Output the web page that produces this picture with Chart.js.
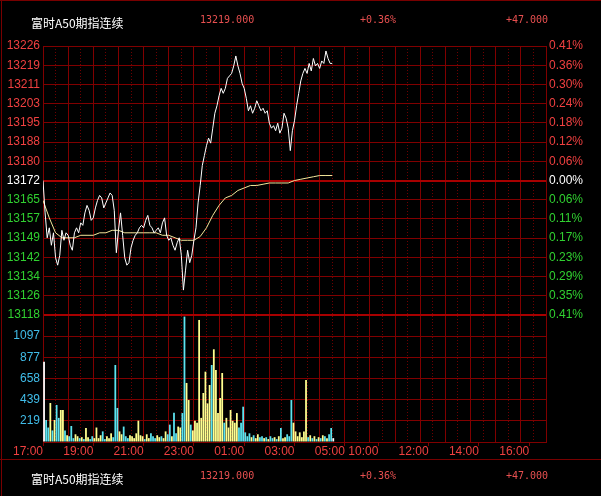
<!DOCTYPE html>
<html>
<head>
<meta charset="utf-8">
<script src="https://cdn.jsdelivr.net/npm/chart.js@4.4.1/dist/chart.umd.min.js"></script>
<style>
  html, body { margin: 0; padding: 0; background: #000; }
  #wrap { position: relative; width: 601px; height: 496px; overflow: hidden; background: #000; }
  #wrap canvas { position: absolute; left: 0; top: 0; }
  .row { position: absolute; left: 0; width: 601px; height: 16px; line-height: 16px; }
  .row span { position: absolute; top: 0; white-space: nowrap; }
  .name { color: #fff; font: 12px "Noto Sans CJK SC", sans-serif; }
  .num { color: #e85050; font: 10px "DejaVu Sans Mono", monospace; }
  .frame { position: absolute; background: #780000; }
</style>
</head>
<body>
<div id="wrap">
  <canvas id="c" width="601" height="496"></canvas>
  <div class="frame" style="left:0;top:0;width:601px;height:1px"></div>
  <div class="frame" style="left:1px;top:0;width:1px;height:496px"></div>
  <div class="frame" style="left:0;top:459px;width:601px;height:1px"></div>
  <div class="row" style="top:14px">
    <span class="name" style="left:31px">富时A50期指连续</span>
    <span class="num" style="left:200px">13219.000</span>
    <span class="num" style="left:360px">+0.36%</span>
    <span class="num" style="left:506px">+47.000</span>
  </div>
  <div class="row" style="top:470px">
    <span class="name" style="left:31px">富时A50期指连续</span>
    <span class="num" style="left:200px">13219.000</span>
    <span class="num" style="left:360px">+0.36%</span>
    <span class="num" style="left:506px">+47.000</span>
  </div>
</div>
<script>
// ------------------------------------------------------------
// data (night session from 17:00, one sample every 5 minutes)
// ------------------------------------------------------------
const PREV_CLOSE = 13172;
const STEP_MIN = 5;
const AVG_STEP_MIN = 15;
const VOL_STEP = 219.4;

const price = [
  13172, 13159, 13149, 13153, 13146, 13151, 13141, 13138, 13142, 13152,
  13148, 13151, 13150, 13146, 13144, 13151, 13153, 13151, 13155, 13154,
  13159, 13162, 13160, 13156, 13157, 13161, 13164, 13166, 13165, 13161,
  13163, 13165, 13167, 13166, 13160, 13143, 13152, 13159, 13150, 13141,
  13138, 13139, 13145, 13148, 13150, 13151, 13153, 13154, 13153, 13156,
  13158, 13154, 13153, 13151, 13152, 13153, 13151, 13155, 13157, 13150,
  13148, 13149, 13146, 13144, 13147, 13149, 13142, 13128, 13136, 13144,
  13139, 13142, 13148, 13153, 13163, 13170, 13178, 13182, 13186, 13189,
  13187, 13193, 13199, 13202, 13206, 13209, 13207, 13209, 13213, 13214,
  13215, 13218, 13222, 13218, 13215, 13211, 13209, 13205, 13200, 13202,
  13199, 13201, 13204, 13202, 13200, 13201, 13199, 13200, 13195, 13193,
  13194, 13192, 13195, 13191, 13193, 13199, 13197, 13193, 13184, 13192,
  13196, 13202, 13207, 13212, 13215, 13217, 13215, 13219, 13216, 13221,
  13218, 13219, 13217, 13220, 13219, 13224, 13221, 13219, 13219
];

const avgPrice = [
  13164, 13157, 13151, 13149, 13149, 13149, 13150, 13150, 13150, 13151,
  13151, 13152, 13152, 13151, 13151, 13151, 13151, 13151, 13151, 13150,
  13150, 13149, 13148, 13148, 13148, 13149.5, 13153, 13158, 13162, 13165,
  13166, 13168, 13169, 13170, 13170, 13170.5, 13171, 13171, 13171, 13171,
  13172, 13172.5, 13173, 13173.5, 13174, 13174, 13174
];

const volume = [
  833, 228, 150, 404, 120, 228, 384, 250, 332, 332,
  120, 70, 60, 166, 40, 80, 60, 40, 50, 30,
  145, 50, 30, 60, 40, 150, 40, 70, 110, 30,
  60, 40, 90, 50, 798, 353, 110, 80, 160, 60,
  40, 70, 60, 40, 90, 221, 70, 60, 30, 80,
  40, 90, 60, 40, 70, 50, 60, 40, 110, 80,
  180, 60, 304, 90, 160, 150, 300, 1300, 612, 435,
  180, 120, 220, 200, 1265, 250, 508, 729, 400, 591,
  798, 961, 747, 300, 456, 715, 200, 250, 150, 332,
  220, 200, 300, 150, 200, 366, 100, 60, 90, 50,
  70, 40, 80, 50, 60, 40, 50, 30, 60, 40,
  50, 30, 60, 145, 40, 50, 80, 60, 435, 200,
  110, 60, 100, 50, 110, 643, 50, 70, 40, 60,
  30, 50, 40, 70, 60, 40, 80, 145, 40
];

// time axis: minutes from 17:00 (day session drawn after the night one)
const timeLabels = ['17:00', '19:00', '21:00', '23:00', '01:00', '03:00', '05:00', '10:00', '12:00', '14:00', '16:00'];
const timeTickMin = [0, 120, 240, 360, 480, 600, 720, 800, 920, 1040, 1160];
const X_MAX = 1200;

const priceLabels = ['13118', '13126', '13134', '13142', '13149', '13157', '13165', '13172',
                     '13180', '13188', '13195', '13203', '13211', '13219', '13226'];
const pctLabels = ['0.41%', '0.35%', '0.29%', '0.23%', '0.17%', '0.11%', '0.06%', '0.00%',
                   '0.06%', '0.12%', '0.18%', '0.24%', '0.30%', '0.36%', '0.41%'];
const volLabels = ['', '219', '439', '658', '877', '1097', ''];

// ------------------------------------------------------------
// styles
// ------------------------------------------------------------
const GRID = '#800000';
const GRID_DOT = '#6e0000';
const GRID_MAIN = '#a80000';
const RED = '#f04040';
const GREEN = '#30d030';
const CYAN = '#40bce8';
const FONT = { family: '"Liberation Sans", Arial, sans-serif', size: 12 };
const HALF = 54;

const priceTicks = () => priceLabels.map((_, i) => ({ value: PREV_CLOSE + (i - 7) * HALF / 7 }));
const sideColor = c => c.index < 7 ? GREEN : (c.index === 7 ? '#ffffff' : RED);

const pricePts = price.map((v, i) => ({ x: i * STEP_MIN, y: v }));
const avgPts = avgPrice.map((v, i) => ({ x: i * AVG_STEP_MIN, y: v }));
// each volume bar sits in the middle of its 5-minute slot
const volPts = volume.map((v, i) => ({ x: i * STEP_MIN + STEP_MIN / 2, y: v }));
const volColors = price.map((p, i) => {
  if (i === 0 || p === price[i - 1]) return '#ffffff';
  return p > price[i - 1] ? '#ffff90' : '#5ce4f0';
});

new Chart(document.getElementById('c').getContext('2d'), {
  data: {
    datasets: [
      { type: 'line', data: pricePts, xAxisID: 'x', yAxisID: 'yP',
        borderColor: '#ffffff', borderWidth: 1, pointRadius: 0, tension: 0 },
      { type: 'line', data: avgPts, xAxisID: 'x', yAxisID: 'yP',
        borderColor: '#f2e69a', borderWidth: 1, pointRadius: 0, tension: 0 },
      { type: 'bar', data: volPts, xAxisID: 'x', yAxisID: 'yV',
        backgroundColor: volColors, borderWidth: 0,
        barPercentage: 1, categoryPercentage: 0.85 }
    ]
  },
  options: {
    responsive: false,
    animation: false,
    layout: { padding: { top: 46, bottom: 34, left: 0, right: 0 } },
    plugins: { legend: { display: false }, tooltip: { enabled: false } },
    scales: {
      x: {
        type: 'linear', position: 'bottom', min: 0, max: X_MAX, offset: false,
        afterBuildTicks: s => { s.ticks = timeTickMin.map(v => ({ value: v })); },
        afterFit: s => { s.height = 20; },
        ticks: { autoSkip: false, maxRotation: 0, align: 'end', padding: -2,
                 color: RED, font: FONT, callback: (v, i) => timeLabels[i] },
        grid: { offset: false, drawOnChartArea: false, drawTicks: true, tickLength: 4, tickColor: GRID },
        border: { color: GRID }
      },
      // hourly solid grid
      xh: {
        type: 'linear', position: 'top', min: 0, max: X_MAX, offset: false,
        afterBuildTicks: s => {
          const t = [];
          for (let m = 0; m <= X_MAX; m += 60) t.push({ value: m });
          s.ticks = t;
        },
        afterFit: s => { s.height = 0; },
        ticks: { display: false },
        grid: { color: GRID, lineWidth: 1, drawTicks: false },
        border: { display: false }
      },
      // half-hour dotted grid
      xd: {
        type: 'linear', position: 'top', min: 0, max: X_MAX, offset: false,
        afterBuildTicks: s => {
          const t = [];
          for (let m = 30; m < X_MAX; m += 60) t.push({ value: m });
          s.ticks = t;
        },
        afterFit: s => { s.height = 0; },
        ticks: { display: false },
        grid: { color: GRID_DOT, lineWidth: 1, drawTicks: false },
        border: { display: false, dash: [1, 2] }
      },
      // left stack is laid out innermost-first, so the volume axis comes first here
      yV: {
        type: 'linear', position: 'left', stack: 'left', stackWeight: 127,
        min: 0, max: VOL_STEP * 6,
        afterBuildTicks: s => { s.ticks = volLabels.map((_, i) => ({ value: i * VOL_STEP })); },
        afterFit: s => { s.width = 43; },
        ticks: { autoSkip: false, padding: 3, color: CYAN, font: FONT,
                 callback: (v, i) => volLabels[i] },
        grid: { drawTicks: false, color: c => c.index === 6 ? GRID_MAIN : GRID,
                lineWidth: c => c.index === 6 ? 2 : 1 },
        border: { color: GRID }
      },
      yP: {
        type: 'linear', position: 'left', stack: 'left', stackWeight: 269,
        min: PREV_CLOSE - HALF, max: PREV_CLOSE + HALF,
        afterBuildTicks: s => { s.ticks = priceTicks(); },
        afterFit: s => { s.width = 43; },
        ticks: { autoSkip: false, padding: 3, color: sideColor, font: FONT,
                 callback: (v, i) => priceLabels[i] },
        grid: { drawTicks: false,
                color: c => (c.index === 7 || c.index === 0) ? GRID_MAIN : GRID,
                lineWidth: c => (c.index === 7 || c.index === 0) ? 2 : 1 },
        border: { color: GRID }
      },
      yR: {
        type: 'linear', position: 'right', stack: 'right', stackWeight: 269,
        min: PREV_CLOSE - HALF, max: PREV_CLOSE + HALF,
        afterBuildTicks: s => { s.ticks = priceTicks(); },
        afterFit: s => { s.width = 55; },
        ticks: { autoSkip: false, padding: 3, color: sideColor, font: FONT,
                 callback: (v, i) => pctLabels[i] },
        grid: { drawOnChartArea: false, drawTicks: false },
        border: { color: GRID }
      },
      yR2: {
        type: 'linear', position: 'right', stack: 'right', stackWeight: 127,
        min: 0, max: 1,
        afterFit: s => { s.width = 55; },
        ticks: { display: false },
        grid: { display: false },
        border: { color: GRID }
      }
    }
  }
});
</script>
</body>
</html>
